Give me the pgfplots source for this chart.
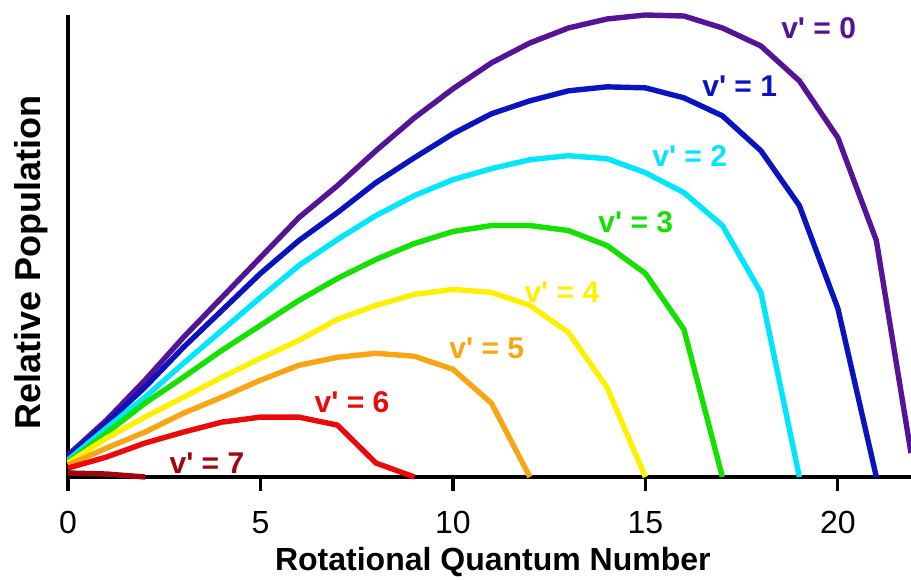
\documentclass[border=0pt]{standalone}
\usepackage{fontspec}
\setmainfont{Liberation Sans}
\usepackage{pgfplots}
\pgfplotsset{compat=1.18}
\definecolor{vzero}{RGB}{85,20,150}
\definecolor{vone}{RGB}{10,20,190}
\definecolor{vtwo}{RGB}{0,230,255}
\definecolor{vthree}{RGB}{20,225,0}
\definecolor{vfour}{RGB}{255,240,0}
\definecolor{vfive}{RGB}{250,165,20}
\definecolor{vsix}{RGB}{235,10,10}
\definecolor{vseven}{RGB}{160,5,15}
\newcommand{\vlab}[1]{v\textquotesingle\ = #1}

\begin{document}
\begin{tikzpicture}
\begin{axis}[
    at={(0,0)}, anchor=south west,
    scale only axis,
    width=421.5pt, height=231pt,
    xmin=0, xmax=21.9, ymin=0, ymax=463,
    axis x line*=bottom, axis y line*=left,
    axis line style={-, line width=1.6pt, black},
    xtick={0,5,10,15,20}, ytick=\empty,
    tick align=outside, major tick length=7pt,
    tick style={line width=1.6pt, black},
    /pgf/number format/assume math mode=true,
    xticklabel style={font=\fontsize{16}{19}\selectfont, inner sep=0pt,
        anchor=north, yshift=-10pt},
    xlabel={Rotational Quantum Number},
    ylabel={Relative Population},
    xlabel style={font=\bfseries\fontsize{16}{19}\selectfont,
        at={(axis description cs:0.504,-0.184)}, anchor=center},
    ylabel style={font=\bfseries\fontsize{18}{21}\selectfont,
        at={(axis description cs:-0.044,0.465)}, anchor=center},
    clip=false,
    every axis plot/.append style={line width=2.7pt, mark=none, line join=round},
]
% v' = 0
\addplot[vzero] coordinates {
    (0,22) (1,57) (2,97) (3,140) (4,180) (5,220) (6,260) (7,292) (8,327)
    (9,360) (10,389) (11,415) (12,435) (13,450) (14,459) (15,463) (16,462)
    (17,450) (18,432) (19,397) (20,340) (21,237) (21.9,24)
};
% v' = 1
\addplot[vone] coordinates {
    (0,20) (1,54) (2,90) (3,130) (4,167) (5,204) (6,237) (7,265) (8,295)
    (9,320) (10,344) (11,364) (12,377) (13,387) (14,391) (15,390) (16,380)
    (17,362) (18,327) (19,272) (20,169) (21,0)
};
% v' = 2
\addplot[vtwo] coordinates {
    (0,17) (1,49) (2,80) (3,114) (4,147) (5,180) (6,212) (7,238) (8,262)
    (9,282) (10,298) (11,309) (12,318) (13,322) (14,319) (15,305) (16,285)
    (17,252) (18,185) (19,0)
};
% v' = 3
\addplot[vthree] coordinates {
    (0,15) (1,44) (2,74) (3,100) (4,127) (5,152) (6,177) (7,199) (8,218)
    (9,234) (10,246) (11,252) (12,252) (13,247) (14,232) (15,204) (16,148)
    (17,0)
};
% v' = 4
\addplot[vfour] coordinates {
    (0,14) (1,39) (2,60) (3,80) (4,100) (5,119) (6,137) (7,158) (8,172)
    (9,183) (10,188) (11,185) (12,172) (13,145) (14,90) (15,0)
};
% v' = 5
\addplot[vfive] coordinates {
    (0,12) (1,29) (2,45) (3,64) (4,80) (5,97) (6,112) (7,120) (8,124)
    (9,121) (10,108) (11,74) (12,0)
};
% v' = 6
\addplot[vsix] coordinates {
    (0,9) (1,20) (2,34) (3,45) (4,55) (5,60) (6,60) (7,52) (8,14) (9,0)
};
% v' = 7
\addplot[vseven] coordinates {
    (0,4) (1,3) (2,0)
};

\begin{scope}[font=\bfseries\fontsize{15}{18}\selectfont]
\node[text=vzero]  at (axis cs:19.5,450)  {\vlab{0}};
\node[text=vone]   at (axis cs:17.45,392) {\vlab{1}};
\node[text=vtwo]   at (axis cs:16.15,322) {\vlab{2}};
\node[text=vthree] at (axis cs:14.75,255) {\vlab{3}};
\node[text=vfour]  at (axis cs:12.83,185) {\vlab{4}};
\node[text=vfive]  at (axis cs:10.88,129) {\vlab{5}};
\node[text=vsix]   at (axis cs:7.38,75)   {\vlab{6}};
\node[text=vseven] at (axis cs:3.61,14)   {\vlab{7}};
\end{scope}
\end{axis}
\pgfresetboundingbox
\useasboundingbox (-34pt,-51pt) rectangle (421.5pt,238.5pt);
\end{tikzpicture}
\end{document}
